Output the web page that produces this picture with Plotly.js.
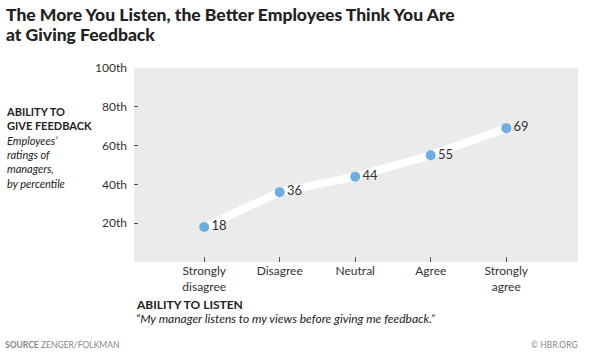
<!DOCTYPE html>
<html><head><meta charset="utf-8">
<script src="https://cdn.plot.ly/plotly-3.0.1.min.js"></script>
<style>html,body{margin:0;padding:0;background:#fff}#c{width:600px;height:358px}</style>
</head><body><div id="c"></div>
<script>
const categories = ["Strongly<br>disagree", "Disagree", "Neutral", "Agree", "Strongly<br>agree"];
const percentiles = [18, 36, 44, 55, 69];
const yTickVals = [20, 40, 60, 80, 100];
const yTickText = ["20th", "40th", "60th", "80th", "100th"];
const titleLines = ["The More You Listen, the Better Employees Think You Are", "at Giving Feedback"];
const leftLines = ["<b>ABILITY TO</b>", "<b>GIVE FEEDBACK</b>", "<i>Employees’</i>", "<i>ratings of</i>", "<i>managers,</i>", "<i>by percentile</i>"];

const F = "Lato, 'Open Sans', sans-serif";
const xIdx = categories.map((c, i) => i);
const PL = 134, PW = 444, PT = 68, PH = 194;
const px = x => (x - PL) / PW;
const py = y => (PT + PH - y) / PH;

const traces = [
  {x: xIdx, y: percentiles, type: 'scatter', mode: 'lines', line: {color: '#ffffff', width: 8}, hoverinfo: 'skip', showlegend: false},
  {x: xIdx, y: percentiles, type: 'scatter', mode: 'markers+text', marker: {color: '#6aafe3', size: 10},
   text: percentiles.map(String), textposition: 'middle right', textfont: {family: F, size: 13, color: '#333'}, showlegend: false}
];

const annotations = titleLines.map((t, i) => ({
  xref: 'paper', yref: 'paper', x: px(4), y: py(14.5 + i * 20.5), xanchor: 'left', yanchor: 'middle', align: 'left', showarrow: false,
  text: t, font: {family: F, size: 17.5, color: '#222', weight: 900}
}));
annotations.push(
  {xref: 'paper', yref: 'paper', x: px(4), y: py(147), xanchor: 'left', yanchor: 'middle', align: 'left', showarrow: false,
   text: leftLines.join('<br>'), font: {family: F, size: 11, color: '#222'}},
  {xref: 'paper', yref: 'paper', x: px(134), y: py(304), xanchor: 'left', yanchor: 'middle', showarrow: false,
   text: '<b>ABILITY TO LISTEN</b>', font: {family: F, size: 12, color: '#222'}},
  {xref: 'paper', yref: 'paper', x: px(134), y: py(318), xanchor: 'left', yanchor: 'middle', showarrow: false,
   text: '<i>“My manager listens to my views before giving me feedback.”</i>', font: {family: F, size: 12, color: '#222'}},
  {xref: 'paper', yref: 'paper', x: px(3), y: py(345), xanchor: 'left', yanchor: 'middle', showarrow: false,
   text: '<b>SOURCE</b> ZENGER/FOLKMAN', font: {family: F, size: 8.5, color: '#888'}},
  {xref: 'paper', yref: 'paper', x: px(580), y: py(345), xanchor: 'right', yanchor: 'middle', showarrow: false,
   text: '© HBR.ORG', font: {family: F, size: 8.5, color: '#888'}}
);

const layout = {
  width: 600, height: 358,
  margin: {l: PL, r: 600 - PL - PW, t: PT, b: 358 - PT - PH},
  paper_bgcolor: '#fff', plot_bgcolor: '#ebebeb',
  showlegend: false,
  xaxis: {range: [-0.93, 4.95], tickvals: xIdx, ticktext: categories, ticks: 'inside', ticklen: 5, tickcolor: '#555', tickwidth: 1,
          showgrid: false, zeroline: false, showline: false, tickfont: {family: F, size: 12, color: '#333'}, fixedrange: true},
  yaxis: {range: [0, 100], tickvals: yTickVals, ticktext: yTickText, ticks: 'inside', ticklen: 4, tickcolor: '#555', tickwidth: 1,
          showgrid: false, zeroline: false, showline: false, tickfont: {family: F, size: 12, color: '#333'}, ticklabelstandoff: 6, fixedrange: true},
  annotations: annotations
};
Plotly.newPlot('c', traces, layout, {displayModeBar: false, staticPlot: true});
</script></body></html>
